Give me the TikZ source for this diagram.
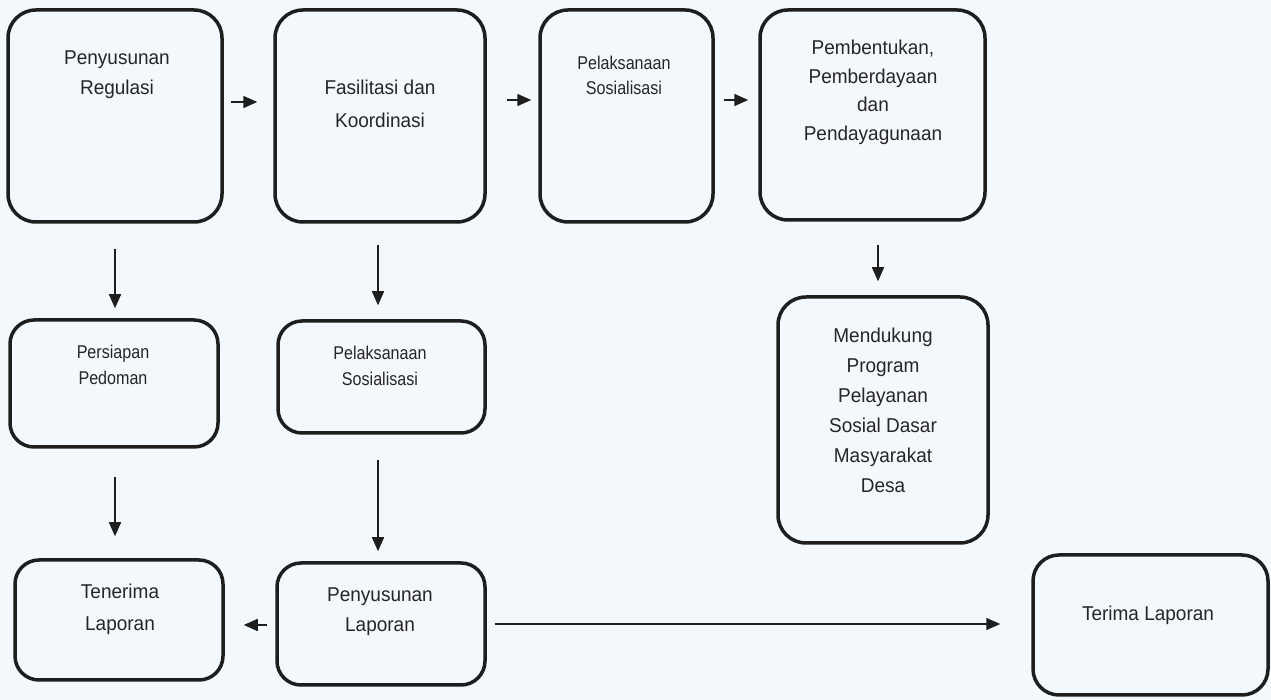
\documentclass[tikz,border=0pt]{standalone}
\usepackage{fontspec}
\setmainfont{Liberation Sans}
\newfontfamily\wideface[FakeStretch=0.95]{Liberation Sans}
\newfontfamily\narrowface[FakeStretch=0.87]{Liberation Sans}
\usetikzlibrary{arrows.meta}
\definecolor{paper}{RGB}{242,248,251}
\definecolor{ink}{RGB}{30,30,30}
\definecolor{txt}{RGB}{38,38,38}
\begin{document}
\begin{tikzpicture}[x=1pt,y=1pt,
  box/.style={draw=ink,line width=3.5pt,rounded corners=28pt,inner sep=0pt},
  big/.style={text=txt,align=center,font=\wideface\fontsize{20}{30}\selectfont,inner sep=0pt},
  small/.style={text=txt,align=center,font=\narrowface\fontsize{18.5}{25}\selectfont,inner sep=0pt},
  arr/.style={draw=ink,line width=1.6pt,-{Triangle[length=14pt,width=12pt]}}]
  \fill[paper] (0,0) rectangle (1271,700);
  \useasboundingbox (0,0) rectangle (1271,700);

  % boxes
  \node[box,minimum width=214pt,minimum height=212pt] (b1) at (115,584) {};
  \node[box,minimum width=210pt,minimum height=212pt] (b2) at (380,584) {};
  \node[box,minimum width=173pt,minimum height=212pt] (b3) at (626.5,584) {};
  \node[box,minimum width=225pt,minimum height=210pt] (b4) at (872.5,585) {};
  \node[box,minimum width=210pt,minimum height=246pt] (b5) at (883,280) {};
  \node[box,rounded corners=24pt,minimum width=208pt,minimum height=127pt] (b6) at (114,316.5) {};
  \node[box,rounded corners=24pt,minimum width=207pt,minimum height=112pt] (b7) at (381.5,323) {};
  \node[box,rounded corners=24pt,minimum width=208pt,minimum height=120pt] (b8) at (119,80) {};
  \node[box,rounded corners=24pt,minimum width=208pt,minimum height=122pt] (b9) at (381,76) {};
  \node[box,rounded corners=26pt,minimum width=235pt,minimum height=140pt] (b10) at (1150.5,75) {};

  % labels
  \node[big] (t1) at (117,625) {Penyusunan\\Regulasi};
  \node[big,font=\wideface\fontsize{20}{33}\selectfont] (t2) at (380,596.5) {Fasilitasi dan\\Koordinasi};
  \node[small] (t3) at (624,624.5) {Pelaksanaan\\Sosialisasi};
  \node[big,font=\wideface\fontsize{20}{28.5}\selectfont] (t4) at (873,607.5) {Pembentukan,\\Pemberdayaan\\dan\\Pendayagunaan};
  \node[big] (t5) at (883,289.5) {Mendukung\\Program\\Pelayanan\\Sosial Dasar\\Masyarakat\\Desa};
  \node[small,font=\narrowface\fontsize{18.5}{26}\selectfont] (t6) at (113,335) {Persiapan\\Pedoman};
  \node[small,font=\narrowface\fontsize{18.5}{26}\selectfont] (t7) at (380,334.5) {Pelaksanaan\\Sosialisasi};
  \node[big,font=\wideface\fontsize{20}{32}\selectfont] (t8) at (120,91) {Tenerima\\Laporan};
  \node[big] (t9) at (380,88) {Penyusunan\\Laporan};
  \node[big] (t10) at (1148,85) {Terima Laporan};

  % connectors
  \draw[arr] ([xshift=7pt,yshift=14pt]b1.east) -- ([xshift=-16pt,yshift=14pt]b2.west);
  \draw[arr] ([xshift=20pt,yshift=16pt]b2.east) -- ([xshift=-7pt,yshift=16pt]b3.west);
  \draw[arr] ([xshift=9pt,yshift=16pt]b3.east) -- ([xshift=-10pt,yshift=15pt]b4.west);
  \draw[arr] ([yshift=-25pt]b1.south) -- ([xshift=1pt,yshift=10pt]b6.north);
  \draw[arr] ([xshift=-2pt,yshift=-21pt]b2.south) -- ([xshift=-3.5pt,yshift=14pt]b7.north);
  \draw[arr] ([xshift=5.5pt,yshift=-23pt]b4.south) -- ([xshift=-5pt,yshift=14pt]b5.north);
  \draw[arr] ([xshift=1pt,yshift=-28pt]b6.south) -- ([xshift=-4pt,yshift=22pt]b8.north);
  \draw[arr] ([xshift=-3.5pt,yshift=-25pt]b7.south) -- ([xshift=-3pt,yshift=10pt]b9.north);
  \draw[arr] ([xshift=-8pt,yshift=-1pt]b9.west) -- ([xshift=19pt,yshift=-5pt]b8.east);
  \draw[arr] ([xshift=8pt]b9.east) -- ([xshift=-31pt,yshift=1pt]b10.west);
\end{tikzpicture}
\end{document}
